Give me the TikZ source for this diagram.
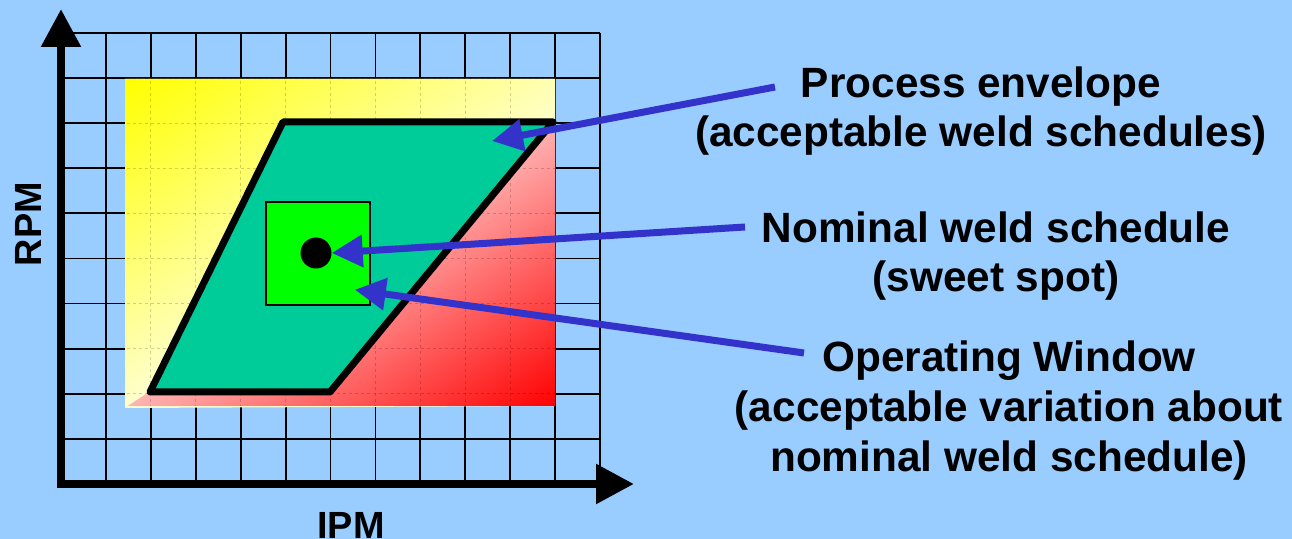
\documentclass[tikz,border=0pt]{standalone}
\usepackage{fontspec}
\setmainfont{Liberation Sans}
\usetikzlibrary{arrows.meta}
\definecolor{bgblue}{HTML}{99CCFF}
\definecolor{envgreen}{HTML}{00CC99}
\definecolor{wingreen}{HTML}{00FF00}
\definecolor{pointer}{HTML}{3333CC}

\begin{document}
\begin{tikzpicture}[x=1bp,y=-1bp,
  gridline/.style={black, line width=1.8bp},
  faintgrid/.style={black, opacity=0.18, line width=1bp, dash pattern=on 3bp off 3bp},
  axisline/.style={black, line width=8.5bp, line join=miter, <->, >={Triangle[length=38bp,width=38bp]}},
  pointerarrow/.style={pointer, line width=7bp, ->, >={Triangle[length=31bp,width=31bp]}},
  envelope/.style={fill=envgreen, draw=black, line width=7bp, line join=round},
  blocktext/.style={font=\bfseries\fontsize{42.5}{50}\selectfont, align=center, inner sep=0pt, anchor=base},
  axislabel/.style={font=\bfseries\fontsize{38}{40}\selectfont, inner sep=0pt}
]
% canvas
\fill[bgblue] (0,0) rectangle (1292,539);
\useasboundingbox (0,0) rectangle (1292,539);

% coordinate grid
\foreach \k in {1,...,12}
  \draw[gridline] ({61+44.92*\k},33) -- ({61+44.92*\k},484);
\foreach \k in {0,...,9}
  \draw[gridline] (61,{33+45.1*\k}) -- (600,{33+45.1*\k});

% shaded background: yellow upper-left part, red lower-right part,
% split along the line from (125,408) to (555,121)
\coordinate (gTL) at (125,79);
\coordinate (gBR) at (555,406);
\fill[yellow!20] (125,79) -- (555,79) -- (555,406) -- (125,408) -- cycle;
\begin{scope}
  \clip (125,79) -- (555,79) -- (555,121) -- (125,408) -- cycle;
  \begin{scope}[transform canvas={shift={(340,264.5)}, rotate=33.72}]
    \shade[top color=yellow, bottom color=yellow!20] (-270,0) rectangle (295,-274);
  \end{scope}
\end{scope}
\begin{scope}
  \clip (125,408) -- (555,121) -- (555,406) -- (125,406) -- cycle;
  \begin{scope}[transform canvas={shift={(340,264.5)}, rotate=33.72}]
    \shade[top color=red!30, bottom color=red] (-270,0) rectangle (295,238);
  \end{scope}
\end{scope}
\begin{scope}
  \clip (gTL) rectangle (gBR);
  \foreach \k in {1,...,12}
    \draw[faintgrid] ({61+44.92*\k},33) -- ({61+44.92*\k},484);
  \foreach \k in {0,...,9}
    \draw[faintgrid] (61,{33+45.1*\k}) -- (600,{33+45.1*\k});
\end{scope}

% process envelope
\draw[envelope] (283,122) -- (553,122) -- (330,392) -- (150,392) -- cycle;
\coordinate (envTarget) at (492,141);

% operating window and nominal point
\node[draw=black, fill=wingreen, line width=1.5bp, minimum width=104bp, minimum height=103bp, inner sep=0pt] (window) at (318,253.5) {};
\node[circle, fill=black, minimum size=31bp, inner sep=0pt] (sweet) at (316,253) {};

% axes
\coordinate (origin) at (61,484);
\coordinate (ytip) at (61,9);
\coordinate (xtip) at (634,484);
\draw[axisline] (ytip) -- (origin) -- (xtip);
\node[axislabel, rotate=90] (rpm) at (28,224) {RPM};
\node[axislabel] (ipm) at (351,525.5) {IPM};

% explanations (anchored at the baseline of the last line)
\node[blocktext] (envText) at (981,147) {Process envelope\\(acceptable weld schedules)};
\node[blocktext] (nomText) at (996,292) {Nominal weld schedule\\(sweet spot)};
\node[blocktext] (winText) at (1009,471) {Operating Window\\(acceptable variation about\\nominal weld schedule)};

\coordinate (envTail) at (775,87);
\coordinate (nomTail) at (745,227);
\coordinate (winTail) at (804,353);

\draw[pointerarrow] (envTail) -- (envTarget);
\draw[pointerarrow] (nomTail) -- (sweet.east);
\draw[pointerarrow] (winTail) -- ([shift={(-16,-16)}]window.south east);
\end{tikzpicture}
\end{document}
